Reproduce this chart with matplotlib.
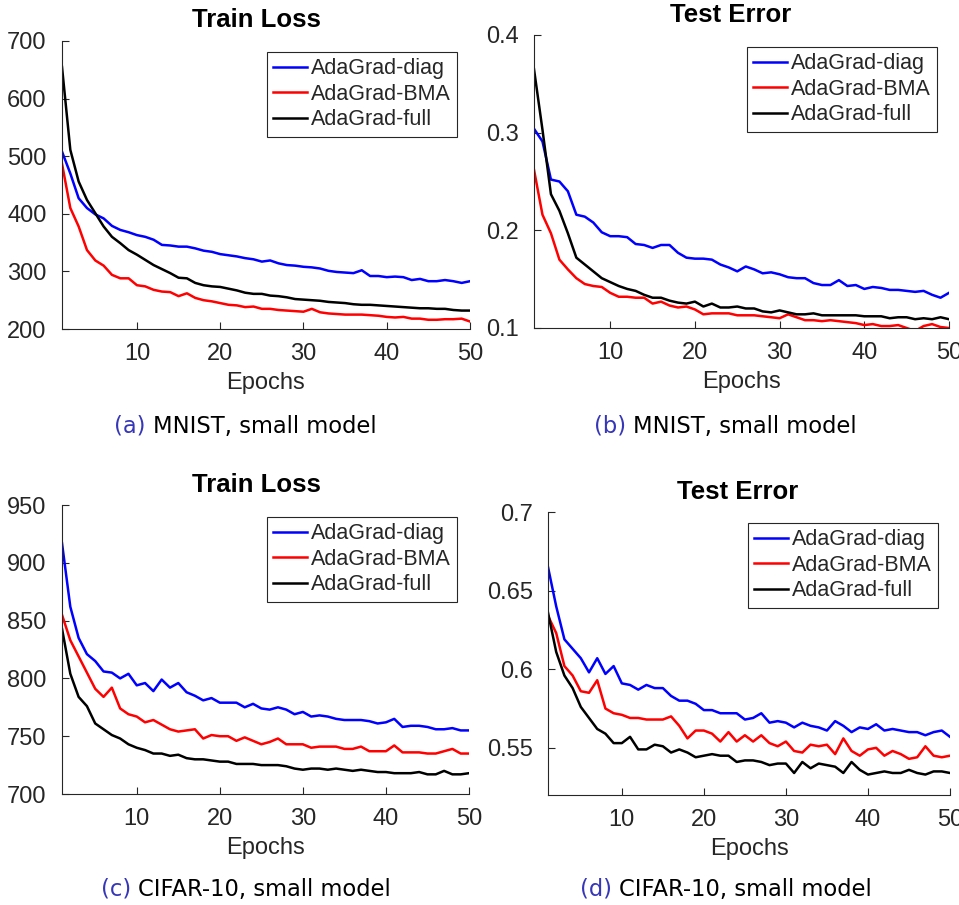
import matplotlib
matplotlib.use("Agg")
import matplotlib.pyplot as plt
from matplotlib.ticker import FuncFormatter
import numpy as np

epochs = list(range(1, 51))
labels = ["AdaGrad-diag", "AdaGrad-BMA", "AdaGrad-full"]
colors = ["#0000ff", "#ff0000", "#000000"]

# (a) MNIST train loss
a_diag = [508, 470, 427, 410, 399, 392, 379, 372, 368, 363, 360, 355, 346, 345, 343, 343, 340, 336, 334, 330,
          328, 326, 323, 321, 317, 319, 314, 311, 310, 308, 307, 305, 301, 299, 298, 297, 302, 292, 292, 290,
          291, 290, 285, 287, 283, 283, 285, 283, 280, 283]
a_bma = [487, 410, 378, 337, 319, 310, 294, 288, 288, 276, 274, 268, 265, 264, 257, 262, 254, 250, 248, 245,
         242, 241, 238, 239, 235, 235, 233, 232, 231, 230, 235, 229, 227, 226, 225, 225, 225, 224, 223, 221,
         220, 221, 218, 218, 216, 216, 217, 217, 218, 213]
a_full = [655, 511, 456, 424, 401, 378, 360, 349, 337, 329, 320, 311, 304, 297, 289, 288, 280, 276, 274, 273,
          270, 267, 263, 261, 261, 258, 257, 255, 252, 251, 250, 249, 247, 246, 245, 243, 242, 242, 241, 240,
          239, 238, 237, 236, 236, 235, 235, 233, 232, 232]

# (b) MNIST test error
b_diag = [0.304, 0.291, 0.252, 0.250, 0.240, 0.216, 0.214, 0.208, 0.198, 0.194, 0.194, 0.193, 0.186, 0.185, 0.182,
          0.185, 0.185, 0.177, 0.172, 0.171, 0.171, 0.170, 0.165, 0.162, 0.158, 0.163, 0.160, 0.156, 0.157, 0.155,
          0.152, 0.151, 0.151, 0.146, 0.144, 0.144, 0.149, 0.143, 0.144, 0.140, 0.142, 0.141, 0.139, 0.139, 0.138,
          0.137, 0.138, 0.134, 0.131, 0.136]
b_bma = [0.262, 0.216, 0.197, 0.170, 0.160, 0.151, 0.145, 0.143, 0.142, 0.136, 0.132, 0.132, 0.131, 0.131, 0.125,
         0.127, 0.123, 0.121, 0.122, 0.119, 0.114, 0.115, 0.115, 0.115, 0.113, 0.113, 0.113, 0.112, 0.111, 0.110,
         0.114, 0.111, 0.108, 0.108, 0.107, 0.108, 0.107, 0.106, 0.105, 0.103, 0.104, 0.102, 0.102, 0.103, 0.100,
         0.097, 0.102, 0.104, 0.101, 0.100]
b_full = [0.365, 0.303, 0.237, 0.220, 0.197, 0.172, 0.165, 0.158, 0.151, 0.147, 0.143, 0.140, 0.138, 0.134, 0.131,
          0.131, 0.128, 0.126, 0.125, 0.127, 0.122, 0.125, 0.121, 0.121, 0.122, 0.120, 0.120, 0.117, 0.116, 0.118,
          0.116, 0.114, 0.114, 0.115, 0.113, 0.113, 0.113, 0.113, 0.113, 0.112, 0.112, 0.112, 0.110, 0.111, 0.111,
          0.109, 0.110, 0.109, 0.111, 0.109]

# (c) CIFAR-10 train loss
c_diag = [917, 862, 835, 821, 815, 806, 805, 800, 804, 794, 796, 789, 799, 792, 796, 788, 785, 781, 783, 779,
          779, 779, 775, 778, 774, 773, 775, 773, 769, 771, 767, 768, 767, 765, 764, 764, 764, 763, 761, 762,
          765, 758, 759, 759, 758, 756, 756, 757, 755, 755]
c_bma = [855, 833, 819, 805, 791, 784, 792, 774, 769, 767, 762, 764, 760, 756, 754, 755, 756, 748, 751, 750,
         750, 746, 749, 746, 743, 745, 748, 743, 743, 743, 740, 741, 741, 741, 739, 739, 741, 737, 737, 737,
         742, 736, 736, 736, 735, 735, 737, 739, 735, 735]
c_full = [843, 804, 784, 776, 761, 756, 751, 748, 743, 740, 738, 735, 735, 733, 734, 731, 730, 730, 729, 728,
          728, 726, 726, 726, 725, 725, 725, 724, 722, 721, 722, 722, 721, 722, 721, 720, 721, 720, 719, 719,
          718, 718, 718, 719, 717, 717, 720, 717, 717, 718]

# (d) CIFAR-10 test error
d_diag = [0.665, 0.640, 0.619, 0.613, 0.607, 0.598, 0.607, 0.597, 0.602, 0.591, 0.590, 0.587, 0.590, 0.588, 0.588,
          0.583, 0.580, 0.580, 0.578, 0.574, 0.574, 0.572, 0.572, 0.572, 0.568, 0.569, 0.572, 0.566, 0.567, 0.566,
          0.563, 0.566, 0.564, 0.563, 0.561, 0.567, 0.564, 0.560, 0.563, 0.562, 0.565, 0.561, 0.562, 0.561, 0.560,
          0.560, 0.558, 0.560, 0.561, 0.557]
d_bma = [0.634, 0.623, 0.602, 0.596, 0.586, 0.585, 0.593, 0.575, 0.572, 0.571, 0.569, 0.569, 0.568, 0.568, 0.568,
         0.570, 0.564, 0.556, 0.561, 0.561, 0.559, 0.554, 0.560, 0.554, 0.558, 0.554, 0.558, 0.553, 0.551, 0.554,
         0.548, 0.547, 0.552, 0.551, 0.552, 0.546, 0.556, 0.548, 0.545, 0.549, 0.550, 0.545, 0.548, 0.546, 0.543,
         0.544, 0.551, 0.545, 0.544, 0.545]
d_full = [0.636, 0.611, 0.596, 0.588, 0.576, 0.569, 0.562, 0.559, 0.553, 0.553, 0.557, 0.549, 0.549, 0.552, 0.551,
          0.547, 0.549, 0.547, 0.544, 0.545, 0.546, 0.545, 0.545, 0.541, 0.542, 0.542, 0.541, 0.539, 0.540, 0.540,
          0.534, 0.541, 0.537, 0.540, 0.539, 0.538, 0.534, 0.541, 0.536, 0.533, 0.534, 0.535, 0.534, 0.534, 0.536,
          0.534, 0.533, 0.535, 0.535, 0.534]

xticks = [10, 20, 30, 40, 50]
yticks_a = [200, 300, 400, 500, 600, 700]
yticks_b = [0.1, 0.2, 0.3, 0.4]
yticks_c = [700, 750, 800, 850, 900, 950]
yticks_d = [0.55, 0.6, 0.65, 0.7]

titles = ["Train Loss", "Test Error", "Train Loss", "Test Error"]
captions = [("(a)", "MNIST, small model"), ("(b)", "MNIST, small model"),
            ("(c)", "CIFAR-10, small model"), ("(d)", "CIFAR-10, small model")]

W, H = 959, 905
fig = plt.figure(figsize=(W / 100, H / 100), dpi=100)
fig.patch.set_facecolor("white")

def px_axes(left, top, right, bottom):
    return fig.add_axes([left / W, 1 - bottom / H, (right - left) / W, (bottom - top) / H])

panels = [
    dict(box=(62, 41, 470, 329), data=[a_diag, a_bma, a_full], ylim=(200, 700), yt=yticks_a,
         title=(256, 20), leg=(457, 52), cap=(245, 426)),
    dict(box=(534, 35, 949, 328), data=[b_diag, b_bma, b_full], ylim=(0.1, 0.4), yt=yticks_b,
         title=(731, 15), leg=(937, 47), cap=(725, 426)),
    dict(box=(62, 505, 469, 794), data=[c_diag, c_bma, c_full], ylim=(700, 950), yt=yticks_c,
         title=(256, 485), leg=(457, 517), cap=(246, 889)),
    dict(box=(548, 512, 950, 795), data=[d_diag, d_bma, d_full], ylim=(0.52, 0.7), yt=yticks_d,
         title=(738, 492), leg=(938, 523), cap=(726, 889)),
]

axcol = "#262626"
tickfont = "Liberation Sans"

for i, p in enumerate(panels):
    ax = px_axes(*p["box"])
    for series, lab, col in zip(p["data"], labels, colors):
        ax.plot(epochs, series, color=col, lw=1.8, label=lab, clip_on=True)
    ax.set_xlim(1, 50)
    ax.set_ylim(*p["ylim"])
    ax.set_xticks(xticks)
    ax.set_yticks(p["yt"])
    ax.yaxis.set_major_formatter(FuncFormatter(lambda v, pos: "%g" % v))
    for s in ["top", "right"]:
        ax.spines[s].set_visible(False)
    for s in ["left", "bottom"]:
        ax.spines[s].set_color(axcol)
        ax.spines[s].set_linewidth(0.8)
    ax.tick_params(direction="in", length=5, width=0.8, colors=axcol, labelsize=17)
    ax.tick_params(axis="x", pad=10)
    ax.tick_params(axis="y", pad=11)
    for t in ax.get_xticklabels() + ax.get_yticklabels():
        t.set_fontfamily(tickfont)
    ax.set_xlabel("Epochs", fontsize=17, family=tickfont, color=axcol, labelpad=5)
    tx, ty = p["title"]
    fig.text(tx / W, 1 - ty / H, titles[i], ha="center", va="center", fontsize=18.5,
             fontweight="bold", family=tickfont, color="black")
    lx, ly = p["leg"]
    leg = ax.legend(loc="upper right", bbox_to_anchor=(lx / W, 1 - ly / H), bbox_transform=fig.transFigure,
                    prop={"family": tickfont, "size": 15.5}, frameon=True, fancybox=False, framealpha=1,
                    edgecolor="#262626", handlelength=1.6, handletextpad=0.15, labelspacing=0.2,
                    borderpad=0.3, borderaxespad=0)
    leg.get_frame().set_linewidth(0.8)
    for txt in leg.get_texts():
        txt.set_color(axcol)
    cx, cy = p["cap"]
    lab1, lab2 = captions[i]
    t1 = fig.text(0, 0, lab1 + " ", fontsize=16.3, family="DejaVu Sans", color="#3636b8")
    t2 = fig.text(0, 0, lab2, fontsize=16.3, family="DejaVu Sans", color="black")
    p["caps"] = (t1, t2, cx, cy)

fig.canvas.draw()
r = fig.canvas.get_renderer()
for p in panels:
    t1, t2, cx, cy = p["caps"]
    w1 = t1.get_window_extent(r).width
    w2 = t2.get_window_extent(r).width
    x0 = cx - (w1 + w2) / 2
    t1.set_position((x0 / W, 1 - cy / H))
    t1.set_va("center")
    t2.set_position(((x0 + w1) / W, 1 - cy / H))
    t2.set_va("center")

fig.savefig("out.png", dpi=100, facecolor="white")
